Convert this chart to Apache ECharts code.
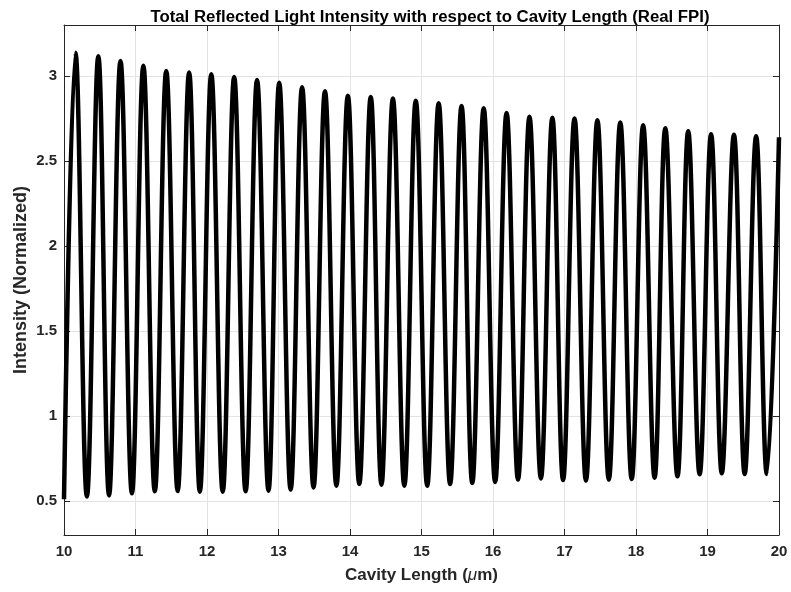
<!DOCTYPE html>
<html lang="en">
<head>
    <meta charset="UTF-8">
    <title>Real FPI</title>
    <script src="https://cdn.jsdelivr.net/npm/echarts@6.0.0/dist/echarts.min.js"></script>
    <style>
        html, body { margin: 0; padding: 0; background: #fff; }
        #main { width: 791px; height: 592px; }
    </style>
</head>
<body>
    <div id="main"></div>
    <script type="text/javascript">
        // minima (valleys), x in um
        var troughX = [10.00, 10.32, 10.63, 10.95, 11.27, 11.59, 11.90, 12.22, 12.54, 12.86, 13.17, 13.49, 13.81, 14.13, 14.44, 14.76,
                       15.08, 15.40, 15.71, 16.03, 16.35, 16.67, 16.98, 17.30, 17.62, 17.94, 18.26, 18.58, 18.89, 19.20, 19.52, 19.83];
        var troughY = [0.510, 0.526, 0.533, 0.545, 0.557, 0.559, 0.555, 0.555, 0.557, 0.561, 0.567, 0.580, 0.590, 0.600, 0.596, 0.590,
                       0.590, 0.600, 0.606, 0.612, 0.626, 0.633, 0.623, 0.620, 0.626, 0.629, 0.637, 0.645, 0.657, 0.663, 0.659, 0.659];
        // maxima (peaks), last one is the end of the curve at 20
        var peakX = [10.16, 10.48, 10.79, 11.11, 11.43, 11.75, 12.06, 12.38, 12.70, 13.01, 13.33, 13.65, 13.97, 14.29, 14.60, 14.92,
                     15.24, 15.56, 15.87, 16.19, 16.51, 16.83, 17.14, 17.46, 17.78, 18.10, 18.41, 18.73, 19.05, 19.37, 19.68, 20.00];
        var peakY = [3.137, 3.116, 3.088, 3.060, 3.030, 3.020, 3.010, 2.994, 2.976, 2.960, 2.934, 2.910, 2.884, 2.877, 2.867, 2.855,
                     2.840, 2.824, 2.810, 2.783, 2.760, 2.755, 2.750, 2.740, 2.726, 2.710, 2.693, 2.675, 2.658, 2.654, 2.646, 2.640];
        var yTicks = [0.5, 1, 1.5, 2, 2.5, 3];

        var pts = [];
        troughX.forEach(function (x, i) {
            pts.push([x, troughY[i]]);
            pts.push([peakX[i], peakY[i]]);
        });

        var axisCol = '#262626';
        var font = 'Liberation Sans, Arial, Helvetica, sans-serif';
        var gridLine = { show: true, lineStyle: { color: '#e3e3e3', width: 1 } };

        var chart = echarts.init(document.getElementById('main'));
        var option = {
            animation: false,
            backgroundColor: '#fff',
            title: {
                text: 'Total Reflected Light Intensity with respect to Cavity Length (Real FPI)',
                left: 425, top: 4, textAlign: 'center',
                textStyle: { fontFamily: font, fontSize: 16.8, fontWeight: 'bold', color: '#000' }
            },
            grid: { left: 64, right: 12, top: 25, bottom: 57, outerBoundsMode: 'none' },
            xAxis: [{
                type: 'value', min: 10, max: 20, interval: 1,
                name: '{n|Cavity Length (}{i|μ}{n|m)}',
                nameLocation: 'middle', nameGap: 32, nameMoveOverlap: false,
                nameTextStyle: {
                    rich: {
                        n: { fontFamily: font, fontSize: 17, fontWeight: 'bold', color: axisCol },
                        i: { fontFamily: font, fontSize: 17, fontStyle: 'italic', color: axisCol }
                    }
                },
                axisLine: { onZero: false, lineStyle: { color: axisCol, width: 1 } },
                axisTick: { inside: true, length: 6, lineStyle: { color: axisCol } },
                axisLabel: { margin: 9, fontFamily: font, fontSize: 15, fontWeight: 'bold', color: axisCol },
                splitLine: gridLine
            }, {
                type: 'value', min: 10, max: 20, interval: 1, position: 'top',
                axisLine: { onZero: false, lineStyle: { color: axisCol, width: 1 } },
                axisTick: { inside: true, length: 6, lineStyle: { color: axisCol } },
                axisLabel: { show: false },
                splitLine: { show: false }
            }],
            yAxis: [{
                type: 'value', min: 0.3, max: 3.3,
                name: 'Intensity (Normalized)',
                nameLocation: 'middle', nameGap: 34, nameMoveOverlap: false,
                nameTextStyle: { fontFamily: font, fontSize: 18, fontWeight: 'bold', color: axisCol },
                axisLine: { show: true, onZero: false, lineStyle: { color: axisCol, width: 1 } },
                axisTick: { show: true, inside: true, length: 6, customValues: yTicks, lineStyle: { color: axisCol } },
                axisLabel: { margin: 7, customValues: yTicks, fontFamily: font, fontSize: 15, fontWeight: 'bold', color: axisCol },
                splitLine: gridLine
            }, {
                type: 'value', min: 0.3, max: 3.3, position: 'right',
                axisLine: { show: true, onZero: false, lineStyle: { color: axisCol, width: 1 } },
                axisTick: { show: true, inside: true, length: 6, customValues: yTicks, lineStyle: { color: axisCol } },
                axisLabel: { show: false },
                splitLine: { show: false }
            }],
            series: [{
                type: 'line',
                data: pts,
                showSymbol: false,
                smooth: 0.4,
                lineStyle: { color: '#000', width: 4.5 },
                silent: true
            }]
        };
        chart.setOption(option);
    </script>
</body>
</html>
